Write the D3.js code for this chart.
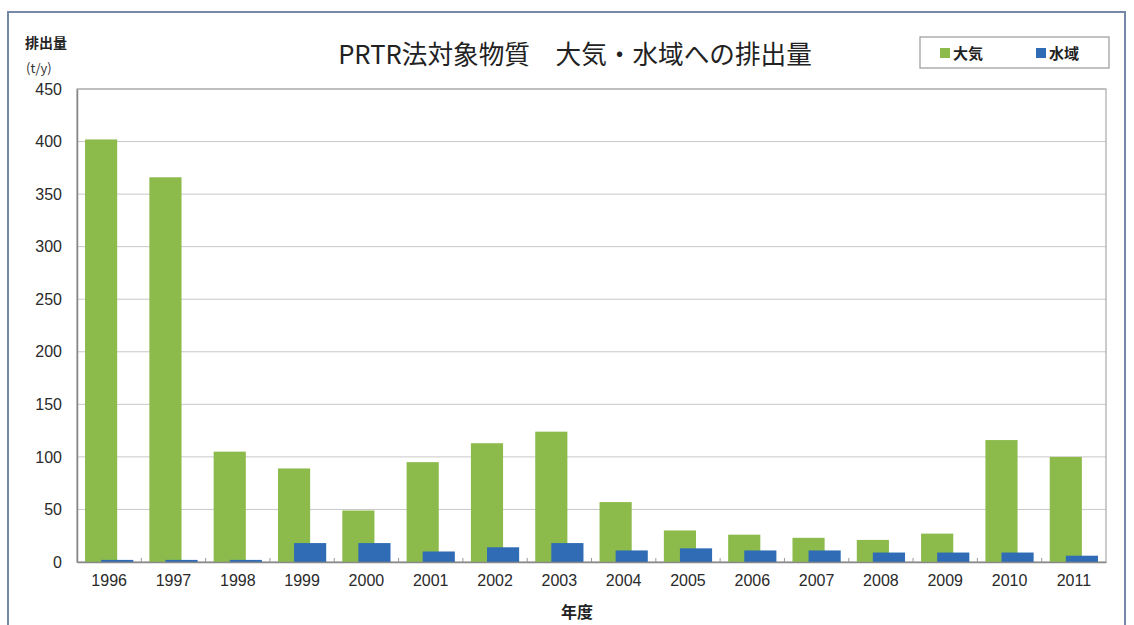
<!DOCTYPE html>
<html><head><meta charset="utf-8">
<script src="https://cdn.jsdelivr.net/npm/d3@7"></script>
<style>
body{margin:0;background:#fff;}
svg{display:block;font-family:"Noto Sans CJK JP","Noto Sans",sans-serif;}
</style></head>
<body><svg id="c" width="1134" height="625"></svg>
<script>
const years = ["1996","1997","1998","1999","2000","2001","2002","2003","2004","2005","2006","2007","2008","2009","2010","2011"];
const airValues = [402,366,105,89,49,95,113,124,57,30,26,23,21,27,116,100];
const waterValues = [2,2,2,18,18,10,14,18,11,13,11,11,9,9,9,6];
const yTicks = [0,50,100,150,200,250,300,350,400,450];
const seriesNames = ["大気","水域"];
const colors = ["#8cbb4c","#2f6cb5"];

const svg = d3.select("#c");
const M = {left:77, right:1106, top:89, bottom:562};

// outer frame
svg.append("rect").attr("x",8).attr("y",12).attr("width",1117).attr("height",640)
  .attr("fill","none").attr("stroke","#7588a8").attr("stroke-width",2);

const x = d3.scaleBand().domain(years).range([M.left,M.right]).paddingInner(0).paddingOuter(0);
const y = d3.scaleLinear().domain([0,450]).range([M.bottom,M.top]);

// gridlines
svg.append("g").selectAll("line").data(yTicks.filter(d=>d>0)).join("line")
  .attr("x1",M.left).attr("x2",M.right).attr("y1",d=>y(d)).attr("y2",d=>y(d))
  .attr("stroke","#c8c8c8").attr("stroke-width",1);

// plot border
svg.append("rect").attr("x",M.left).attr("y",M.top).attr("width",M.right-M.left).attr("height",M.bottom-M.top)
  .attr("fill","none").attr("stroke","#a8a8a8").attr("stroke-width",1.2);

// bars: Excel style overlap 50%, gap 50%
const bw = x.bandwidth()/2;
const groupW = bw*1.5;
const g = svg.append("g");
g.selectAll("rect.air").data(years).join("rect").attr("class","air")
  .attr("x",(d)=>x(d)+(x.bandwidth()-groupW)/2)
  .attr("width",bw)
  .attr("y",(d,i)=>y(airValues[i]))
  .attr("height",(d,i)=>y(0)-y(airValues[i]))
  .attr("fill",colors[0]);
g.selectAll("rect.water").data(years).join("rect").attr("class","water")
  .attr("x",(d)=>x(d)+(x.bandwidth()-groupW)/2+bw*0.5)
  .attr("width",bw)
  .attr("y",(d,i)=>y(waterValues[i]))
  .attr("height",(d,i)=>y(0)-y(waterValues[i]))
  .attr("fill",colors[1]);

// axes
const yAxis = d3.axisLeft(y).tickValues(yTicks).tickSize(0).tickPadding(15);
const ya = svg.append("g").attr("transform",`translate(${M.left},0)`).call(yAxis);
ya.select(".domain").attr("stroke","#888").attr("stroke-width",1.5);
ya.selectAll("text").attr("font-size",16).attr("fill","#2a2a2a").attr("font-family","Liberation Sans, Arial, sans-serif");

const xAxis = d3.axisBottom(x).tickSize(0).tickPadding(13);
const xa = svg.append("g").attr("transform",`translate(0,${M.bottom})`).call(xAxis);
xa.select(".domain").attr("stroke","#888").attr("stroke-width",1.5);
xa.selectAll("text").attr("font-size",16).attr("fill","#2a2a2a").attr("font-family","Liberation Sans, Arial, sans-serif");

// small category boundary ticks
svg.append("g").selectAll("line").data(years.slice(1)).join("line")
  .attr("x1",d=>x(d)).attr("x2",d=>x(d)).attr("y1",M.bottom).attr("y2",M.bottom-4)
  .attr("stroke","#999");

// title, sized to span the same width as the reference
const title = svg.append("text").attr("x",575).attr("y",64).attr("text-anchor","middle")
  .attr("font-size",20).attr("font-weight",400).attr("fill","#222").text("PRTR法対象物質　大気・水域への排出量");
const tw = title.node().getComputedTextLength();
title.attr("font-size", 20*474/tw);

// y-axis title
svg.append("text").attr("x",25).attr("y",48).attr("font-size",14).attr("font-weight","bold").attr("fill","#222").text("排出量");
svg.append("text").attr("x",26).attr("y",73).attr("font-size",13).attr("fill","#333").text("(t/y)");

// x-axis title
svg.append("text").attr("x",577).attr("y",618).attr("text-anchor","middle")
  .attr("font-size",16).attr("font-weight","bold").attr("fill","#222").text("年度");

// legend
const lg = svg.append("g");
lg.append("rect").attr("x",920).attr("y",37).attr("width",189).attr("height",31)
  .attr("fill","#fff").attr("stroke","#999").attr("stroke-width",1.2);
const legX = [940,1036];
seriesNames.forEach((n,i)=>{
  lg.append("rect").attr("x",legX[i]).attr("y",48).attr("width",10).attr("height",10).attr("fill",colors[i]);
  lg.append("text").attr("x",legX[i]+13).attr("y",59).attr("font-size",15).attr("font-weight","bold")
    .attr("fill","#222").text(n);
});
</script></body></html>
